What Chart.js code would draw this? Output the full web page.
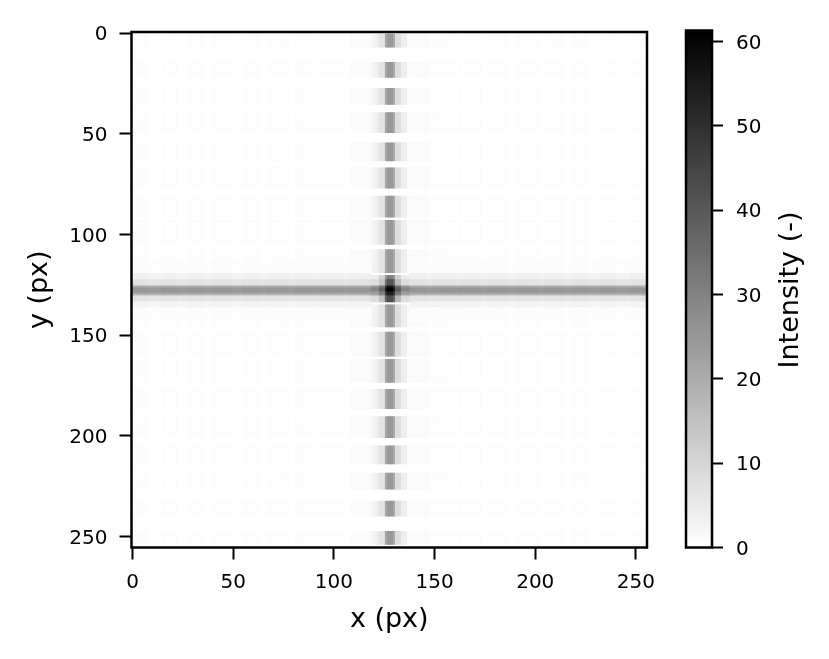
<!DOCTYPE html>
<html>
<head>
<meta charset="utf-8">
<style>
  html, body { margin: 0; padding: 0; background: #fff; }
  canvas { position: absolute; left: 0; top: 0; }
</style>
<script src="https://cdn.jsdelivr.net/npm/chart.js@4"></script>
</head>
<body>
<canvas id="mapa" width="829" height="659"></canvas>
<canvas id="barra" width="829" height="659"></canvas>
<script>
const maxIntensity = 61.3;
const xTicks = [0, 50, 100, 150, 200, 250];
const barTicks = [0, 10, 20, 30, 40, 50, 60];
const barLabel = 'Intensity (-)';

// faixas claras/escuras, iguais em x e y (em pixels da imagem)
const bandStart = [0.5, 14.5, 27.5, 39.5, 54.5, 67, 81, 93, 107.5, 120.5, 135, 148.5, 162, 177, 190.5, 205, 218.5, 232.5, 247.5];
const bandEnd = [7, 22, 35.5, 49.5, 63.5, 77, 91.5, 105, 119, 133, 146, 160.5, 173.5, 186.5, 201, 214, 226.5, 240, 254];

const faintLevel = 0.4;

// listra vertical: colunas e intensidade
const stripeColStart = [109, 119, 120, 122, 123, 126, 127, 130, 131, 134, 137];
const stripeColEnd = [118, 119, 121, 122, 125, 126, 129, 130, 133, 136, 147];
const stripeLevels = [0.9, 2.2, 2.9, 4.8, 6.5, 21, 24.5, 21, 8, 4.1, 0.9];

// linha horizontal: linhas e intensidade (dentro da faixa / fora da faixa)
const lineRowStart = [113.5, 119.5, 122.5, 125.5, 126.5, 128.5, 129.5, 130.5, 133.5, 136.5];
const lineRowEnd = [119.5, 122.5, 125.5, 126.5, 128.5, 129.5, 130.5, 133.5, 136.5, 142.5];
const lineBand = [0.8, 3.5, 6.8, 19.5, 25.5, 24, 18.5, 6.8, 2.6, 0.8];
const lineGap = [0.5, 3, 6.2, 19, 24.5, 23.5, 18, 6.2, 2.2, 0.5];

// cruzamento no centro
const crossColStart = [119, 123, 126, 127, 130, 131, 134];
const crossColEnd = [122, 125, 126, 129, 130, 133, 137];
const crossRowStart = [120.5, 122.5, 125.5, 126.5, 128.5, 129.5, 130.5];
const crossRowEnd = [122.5, 125.5, 126.5, 128.5, 129.5, 130.5, 133.5];
const crossLevels = [
  [4.5, 10, 26, 31, 26, 11, 4.5],
  [8, 14, 35, 41, 35, 16, 8.5],
  [24, 31, 48, 55.4, 48, 33, 24],
  [29, 37, 55.4, 61.3, 55.4, 39, 29],
  [24, 31, 48, 55.4, 48, 33, 24],
  [22, 29, 47, 53, 47, 31, 22],
  [8.5, 15, 37.3, 42, 37.3, 17, 8.5]
];

function cinza(v) {
  const g = Math.round(255 * (1 - v / maxIntensity));
  return 'rgb(' + g + ',' + g + ',' + g + ')';
}

const cells = [];
const cellColors = [];
function addCell(col, y0, y1, v) {
  cells.push({ x: col, y: [y0, y1] });
  cellColors.push(cinza(v));
}

const nearBand = [];
for (let c = 0; c < 256; c++) {
  nearBand[c] = bandStart.some((s, i) => c >= s && c <= bandEnd[i]);
}

// fundo bem fraco
bandStart.forEach((ys, b) => {
  for (let c = 0; c < 256; c++) {
    if (nearBand[c] && (c < 109 || c > 147)) addCell(c, ys, bandEnd[b], faintLevel);
  }
});

// listra vertical
bandStart.forEach((ys, b) => {
  stripeColStart.forEach((cs, i) => {
    for (let c = cs; c <= stripeColEnd[i]; c++) addCell(c, ys, bandEnd[b], stripeLevels[i]);
  });
});

// linha horizontal
lineRowStart.forEach((rs, i) => {
  for (let c = 0; c < 256; c++) {
    if (c >= 119 && c <= 137) continue;
    addCell(c, rs, lineRowEnd[i], nearBand[c] ? lineBand[i] : lineGap[i]);
  }
});

// centro
crossRowStart.forEach((rs, r) => {
  crossColStart.forEach((cs, i) => {
    for (let c = cs; c <= crossColEnd[i]; c++) addCell(c, rs, crossRowEnd[r], crossLevels[r][i]);
  });
});

const moldura = {
  id: 'moldura',
  afterDraw(chart) {
    const { ctx, chartArea: a } = chart;
    ctx.save();
    ctx.strokeStyle = '#000';
    ctx.lineWidth = 2.5;
    ctx.strokeRect(a.left, a.top, a.right - a.left, a.bottom - a.top);
    ctx.restore();
  }
};

const fonte = 'DejaVu Sans';
const commonTicks = { color: '#000', font: { family: fonte, size: 20 }, includeBounds: false, autoSkip: false, maxRotation: 0 };

new Chart(document.getElementById('mapa'), {
  type: 'bar',
  data: {
    datasets: [{
      data: cells,
      backgroundColor: cellColors,
      categoryPercentage: 1,
      barPercentage: 1,
      borderWidth: 0
    }]
  },
  plugins: [moldura],
  options: {
    responsive: false,
    animation: false,
    events: [],
    layout: { padding: { top: 32, right: 182, bottom: 0, left: 0 } },
    plugins: { legend: { display: false }, tooltip: { enabled: false } },
    scales: {
      x: {
        type: 'linear',
        min: -0.5,
        max: 255.5,
        offset: false,
        afterFit: s => { s.height = 111.5; },
        grid: { offset: false, drawOnChartArea: false, tickLength: 12, tickWidth: 2, tickColor: '#000' },
        border: { display: false },
        afterBuildTicks: s => { s.ticks = xTicks.map(v => ({ value: v })); },
        ticks: Object.assign({ padding: 11 }, commonTicks),
        title: { display: true, text: 'x (px)', color: '#000', font: { family: fonte, size: 27 }, padding: { top: 8, bottom: 23 } }
      },
      y: {
        type: 'linear',
        min: -0.5,
        max: 255.5,
        reverse: true,
        afterFit: s => { s.width = 131.5; },
        grid: { drawOnChartArea: false, tickLength: 12, tickWidth: 2, tickColor: '#000' },
        border: { display: false },
        afterBuildTicks: s => { s.ticks = xTicks.map(v => ({ value: v })); },
        ticks: Object.assign({ padding: 12, labelOffset: 2 }, commonTicks),
        title: { display: true, text: 'y (px)', color: '#000', font: { family: fonte, size: 27 }, padding: { top: 24, bottom: 4 } }
      }
    }
  }
});

// titulo da barra de cores (girado como no original, de baixo para cima)
const tituloBarra = {
  id: 'tituloBarra',
  afterDraw(chart) {
    const { ctx, chartArea: a } = chart;
    ctx.save();
    ctx.translate(791, (a.top + a.bottom) / 2 + 1);
    ctx.rotate(-Math.PI / 2);
    ctx.textAlign = 'center';
    ctx.textBaseline = 'middle';
    ctx.fillStyle = '#000';
    ctx.font = '27px "' + fonte + '"';
    ctx.fillText(barLabel, 0, 0);
    ctx.restore();
  }
};

new Chart(document.getElementById('barra'), {
  type: 'bar',
  data: {
    labels: [''],
    datasets: [{
      data: [maxIntensity],
      categoryPercentage: 1,
      barPercentage: 1,
      borderWidth: 0,
      backgroundColor(c) {
        const a = c.chart.chartArea;
        if (!a) return '#888';
        const g = c.chart.ctx.createLinearGradient(0, a.bottom, 0, a.top);
        g.addColorStop(0, '#fff');
        g.addColorStop(1, '#000');
        return g;
      }
    }]
  },
  plugins: [moldura, tituloBarra],
  options: {
    responsive: false,
    animation: false,
    events: [],
    layout: { padding: { top: 30.5, right: 0, bottom: 111.5, left: 686 } },
    plugins: { legend: { display: false }, tooltip: { enabled: false } },
    scales: {
      x: { display: false },
      y: {
        position: 'right',
        min: 0,
        max: maxIntensity,
        afterFit: s => { s.width = 117; },
        grid: { drawOnChartArea: false, tickLength: 11, tickWidth: 2, tickColor: '#000' },
        border: { display: false },
        afterBuildTicks: s => { s.ticks = barTicks.map(v => ({ value: v })); },
        ticks: Object.assign({ padding: 13, labelOffset: 2 }, commonTicks)
      }
    }
  }
});
</script>
</body>
</html>
